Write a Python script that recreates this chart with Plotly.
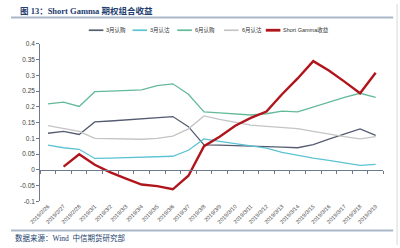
import plotly.graph_objects as go

dates = ["2019/2/26", "2019/2/27", "2019/2/28"] + [f"2019/3/{d}" for d in range(1, 20)]

call_mar = [0.116, 0.122, 0.112, 0.152, 0.155, 0.158, 0.161, 0.165, 0.169, 0.137, 0.079,
            0.078, 0.077, 0.076, 0.075, 0.072, 0.070, 0.080, 0.097, 0.113, 0.130, 0.109]
put_mar = [0.078, 0.070, 0.065, 0.036, 0.037, 0.038, 0.039, 0.040, 0.043, 0.062, 0.098,
           0.090, 0.083, 0.075, 0.069, 0.055, 0.045, 0.037, 0.030, 0.022, 0.014, 0.017]
call_jun = [0.209, 0.215, 0.201, 0.248, 0.250, 0.252, 0.254, 0.267, 0.273, 0.240, 0.184,
            0.181, 0.177, 0.174, 0.178, 0.186, 0.184, 0.200, 0.215, 0.230, 0.243, 0.230]
put_jun = [0.140, 0.131, 0.122, 0.100, 0.099, 0.098, 0.097, 0.100, 0.107, 0.130, 0.171,
           0.160, 0.150, 0.142, 0.138, 0.135, 0.131, 0.122, 0.113, 0.105, 0.098, 0.105]
short_gamma = [None, 0.010, 0.049, 0.016, -0.008, -0.028, -0.047, -0.052, -0.062, -0.019, 0.075,
               0.105, 0.140, 0.165, 0.185, 0.240, 0.290, 0.345, 0.315, 0.280, 0.243, 0.308]

series_names = ["3月认购", "3月认沽", "6月认购", "6月认沽", "Short Gamma收益"]

y_ticks = [0.4, 0.35, 0.3, 0.25, 0.2, 0.15, 0.1, 0.05, 0, -0.05, -0.1]
y_ticktext = ["0.4", "0.35", "0.3", "0.25", "0.2", "0.15", "0.1", "0.05", "0", "-0.05", "-0.1"]

W, H = 400, 248
def py(p):
    return 1 - p / H
def px(p):
    return p / W

colors = ["#545c70", "#5cc3d3", "#63ba98", "#c4c4c4", "#b0151c"]
widths = [1.3, 1.3, 1.3, 1.3, 2.4]
values = [call_mar, put_mar, call_jun, put_jun, short_gamma]

fig = go.Figure()
for name, vals, col, w in zip(series_names, values, colors, widths):
    fig.add_trace(go.Scatter(x=dates, y=vals, name=name, mode="lines",
                             line=dict(color=col, width=w), showlegend=False))

# invisible trace to carry the zero-line axis
fig.add_trace(go.Scatter(x=dates, y=[None] * len(dates), xaxis="x2", yaxis="y",
                         showlegend=False, hoverinfo="skip", mode="lines"))

y_lo, y_hi = 0.1815, 0.8347
zero_pos = y_lo + (0 - (-0.1)) / 0.5 * (y_hi - y_lo)

fig.update_layout(
    width=W, height=H,
    margin=dict(l=0, r=0, t=0, b=0),
    paper_bgcolor="white", plot_bgcolor="white",
    font=dict(family="Liberation Sans, Noto Sans CJK SC", size=6, color="#333333"),
    xaxis=dict(type="category", domain=[px(30), px(383)], range=[-0.5, 21.5],
               showline=False, showgrid=False, zeroline=False, ticks="",
               tickangle=-45, tickfont=dict(size=5.5, color="#444444"),
               anchor="y"),
    xaxis2=dict(type="category", overlaying="x", matches="x", anchor="free",
                position=zero_pos, showline=True, linecolor="#6f7a8c", linewidth=1,
                ticks="outside", tickson="boundaries", ticklen=3, tickcolor="#6f7a8c",
                showticklabels=False, showgrid=False),
    yaxis=dict(domain=[y_lo, y_hi], range=[-0.1, 0.4], showgrid=False, zeroline=False,
               showline=True, linecolor="#6f7a8c", linewidth=1, ticks="outside",
               ticklen=3, tickcolor="#6f7a8c",
               tickvals=y_ticks, ticktext=y_ticktext,
               tickfont=dict(size=6.5, color="#444444")),
    showlegend=False,
)

# legend (samples + labels)
leg_x = [80, 125, 171, 219, 262]
for name, col, w, lx in zip(series_names, colors, widths, leg_x):
    fig.add_shape(type="line", xref="paper", yref="paper", x0=px(lx), x1=px(lx + 15),
                  y0=py(27), y1=py(27), line=dict(color=col, width=w + 0.4))
    fig.add_annotation(xref="paper", yref="paper", x=px(lx + 16), y=py(27),
                       xanchor="left", yanchor="middle", text=name, showarrow=False,
                       font=dict(size=5.5, color="#333333"))

fig.add_shape(type="line", xref="paper", yref="paper", x0=0, x1=px(393), y0=py(14), y1=py(14),
              line=dict(color="#a9b7c9", width=2))
fig.add_shape(type="line", xref="paper", yref="paper", x0=0, x1=px(393), y0=py(233), y1=py(233),
              line=dict(color="#a9b7c9", width=2))
fig.add_shape(type="line", xref="paper", yref="paper", x0=px(397), x1=px(397), y0=0, y1=1,
              line=dict(color="#d8d8d8", width=1))

fig.add_annotation(xref="paper", yref="paper", x=px(7), y=py(7), xanchor="left", yanchor="middle",
                   text="<b>图 13：Short Gamma 期权组合收益</b>", showarrow=False,
                   font=dict(family="Liberation Serif, Noto Sans CJK SC", size=8.5, color="#23406e"))
fig.add_annotation(xref="paper", yref="paper", x=px(2), y=py(241), xanchor="left", yanchor="middle",
                   text="数据来源：Wind  中信期货研究部", showarrow=False,
                   font=dict(family="Liberation Serif, Noto Sans CJK SC", size=7.5, color="#23406e"))

fig.write_html("out.html")
